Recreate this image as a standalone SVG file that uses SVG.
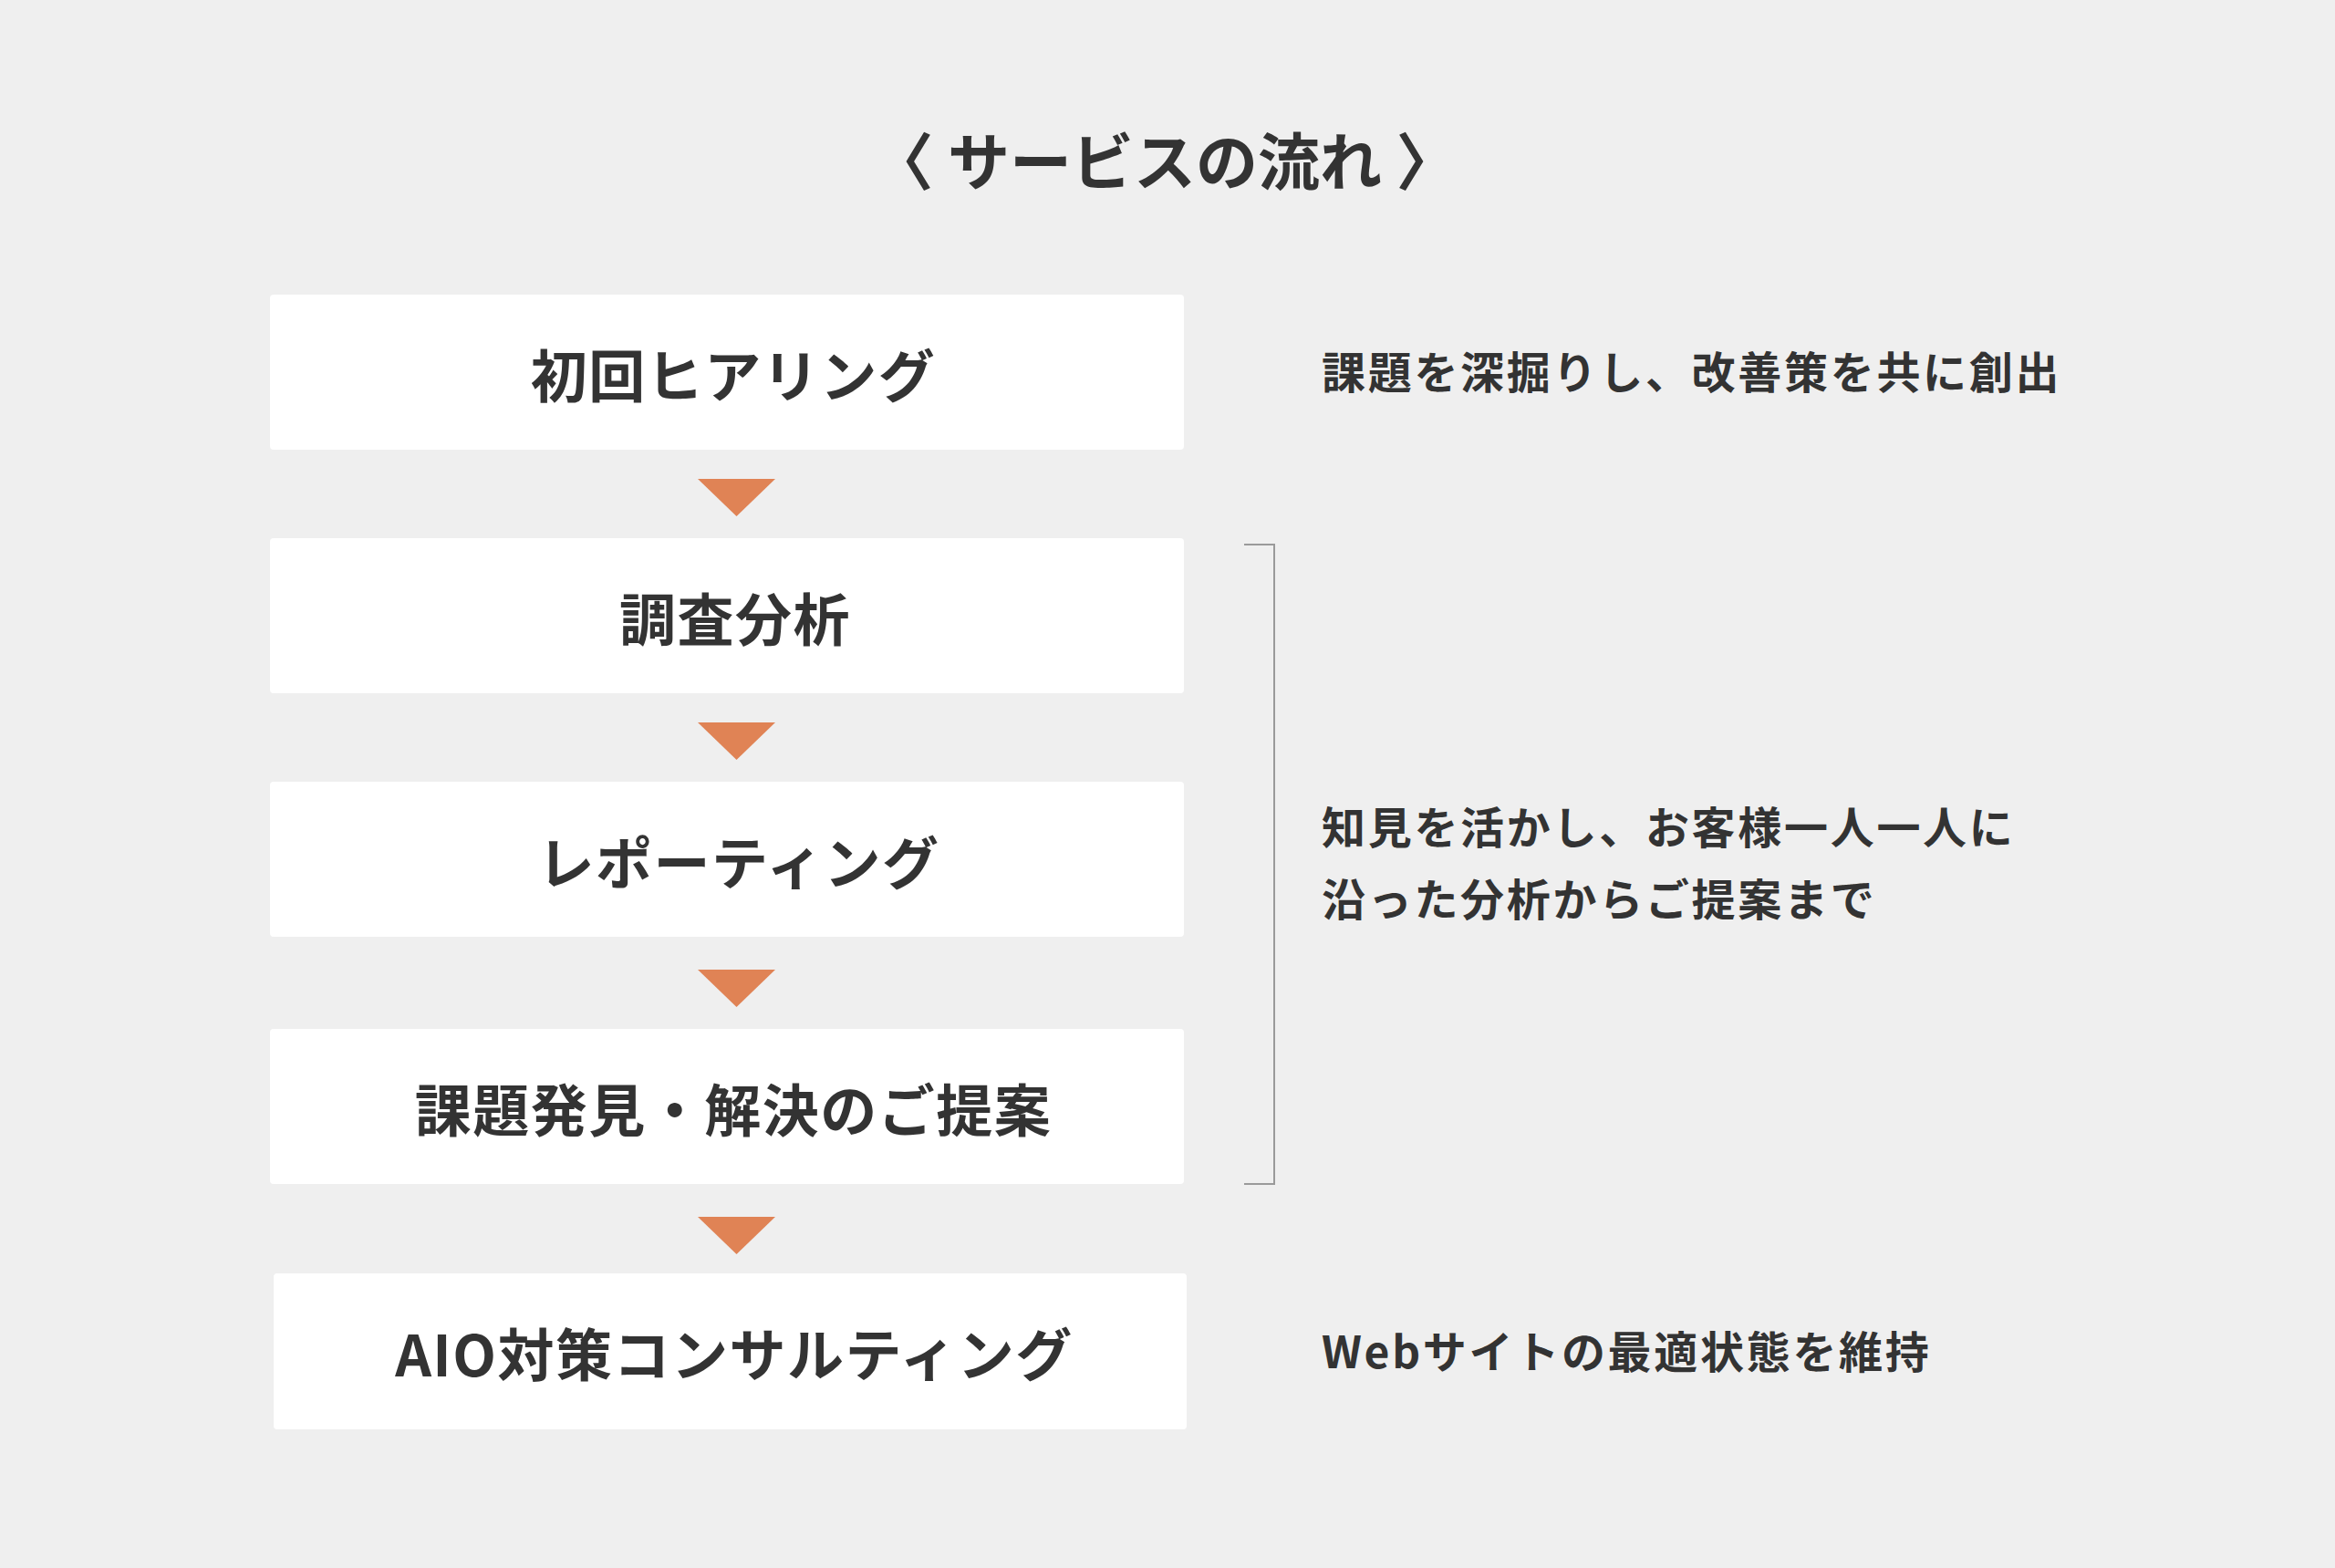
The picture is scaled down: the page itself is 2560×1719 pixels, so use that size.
<svg xmlns="http://www.w3.org/2000/svg" width="2560" height="1719" viewBox="0 0 2560 1719">
<style>
  .bg { fill: #efefef; }
  .box { fill: #ffffff; }
  .arrow { fill: #e08355; }
  .bracket { fill: none; stroke: #9a9a9a; stroke-width: 2; }
  text { font-family: "Noto Sans CJK JP", "Noto Sans", sans-serif; font-weight: 700; fill: #333333; }
  .title { font-size: 68px; text-anchor: middle; }
  .step { font-size: 62px; text-anchor: middle; letter-spacing: 1.5px; }
  .note { font-size: 48px; letter-spacing: 2.7px; }
</style>
<rect class="bg" x="0" y="0" width="2560" height="1719"/>
<text id="title" class="title" x="1277" y="203">〈 サービスの流れ 〉</text>

<g id="step1">
  <rect class="box" x="296" y="323" width="1002" height="170" rx="4"/>
  <text class="step" x="804" y="436">初回ヒアリング</text>
</g>
<g id="step2">
  <rect class="box" x="296" y="590" width="1002" height="170" rx="4"/>
  <text class="step" x="806" y="703">調査分析</text>
</g>
<g id="step3">
  <rect class="box" x="296" y="857" width="1002" height="170" rx="4"/>
  <text class="step" x="810" y="970">レポーティング</text>
</g>
<g id="step4">
  <rect class="box" x="296" y="1128" width="1002" height="170" rx="4"/>
  <text class="step" x="804" y="1241">課題発見・解決のご提案</text>
</g>
<g id="step5">
  <rect class="box" x="300" y="1396" width="1001" height="171" rx="4"/>
  <text class="step" x="805" y="1509">AIO対策コンサルティング</text>
</g>

<g id="connectors">
  <polygon class="arrow" points="765,525 850,525 807.5,566"/>
  <polygon class="arrow" points="765,792 850,792 807.5,833"/>
  <polygon class="arrow" points="765,1063 850,1063 807.5,1104"/>
  <polygon class="arrow" points="765,1334 850,1334 807.5,1375"/>
  <polyline class="bracket" points="1364,597 1397,597 1397,1298 1364,1298"/>
</g>

<g id="note1">
  <text class="note" x="1449" y="426">課題を深掘りし、改善策を共に創出</text>
</g>
<g id="note2">
  <text class="note" x="1449" y="925">知見を活かし、お客様一人一人に</text>
  <text class="note" x="1449" y="1004">沿った分析からご提案まで</text>
</g>
<g id="note3">
  <text class="note" x="1449" y="1500">Webサイトの最適状態を維持</text>
</g>
</svg>
